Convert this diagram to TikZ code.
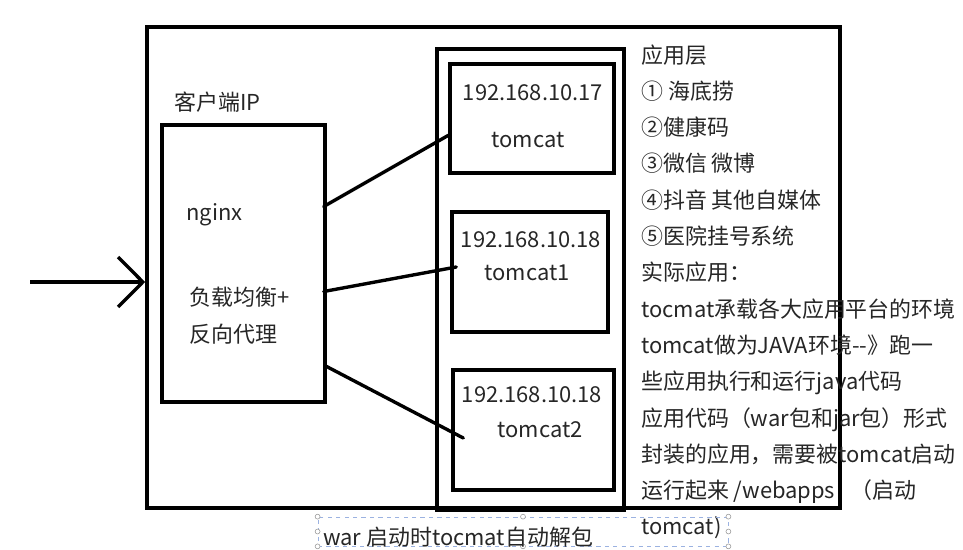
\documentclass[tikz,border=0pt]{standalone}
\usepackage{fontspec}
\setmainfont{Noto Sans CJK SC}
\usepackage{tikz}
\usetikzlibrary{arrows.meta, positioning, calc}

\begin{document}
\begin{tikzpicture}[
    x=0.025cm, y=-0.025cm,
    every node/.style={font=\fontsize{15.6}{18}\selectfont, text=black!85},
    frame/.style={draw, line width=2.4pt, inner sep=0pt},
    link/.style={line width=2.4pt, line cap=round},
    lbl/.style={inner sep=0pt, anchor=base west},
    handle/.style={circle, draw=black!40, fill=white, inner sep=0pt, minimum size=3.5pt},
]
    \useasboundingbox (0,0) rectangle (963,549);

    % boxes
    \node[frame, minimum width=17.325cm, minimum height=12.025cm] (outer) at (493.5,267.5) {};
    \node[frame, minimum width=4.075cm, minimum height=6.925cm] (lb) at (243.5,263.5) {};
    \node[frame, minimum width=4.675cm, minimum height=11.525cm] (col) at (530.5,279.5) {};
    \node[frame, minimum width=4.1cm, minimum height=2.725cm] (t1) at (532,118.5) {};
    \node[frame, minimum width=3.9cm, minimum height=3.0cm] (t2) at (530,272) {};
    \node[frame, minimum width=4.025cm, minimum height=3.0cm] (t3) at (533.5,430) {};

    % nginx side
    \node[lbl] (ip) at (174,110) {客户端IP};
    \node[lbl] (ngx) at (186,220) {nginx};
    \node[lbl] (lbtxt) at (189,305) {负载均衡+};
    \node[lbl] (proxy) at (189,342) {反向代理};

    % tomcat servers
    \node[inner sep=0pt] (ip1) at (533,93) {192.168.10.17};
    \node[inner sep=0pt] (tc1) at (528,140) {tomcat};
    \node[inner sep=0pt] (ip2) at (531,240) {192.168.10.18};
    \node[inner sep=0pt] (tc2) at (527,273) {tomcat1};
    \node[inner sep=0pt] (ip3) at (532,395) {192.168.10.18};
    \node[inner sep=0pt] (tc3) at (540,430) {tomcat2};

    \coordinate (src) at (30,282);
    \draw[line width=2.4pt, -{Straight Barb[length=0.62cm, width=1.25cm, line width=2.4pt]}]
        (src) -- (src -| outer.west);

    \draw[link] ($(lb.east)+(-3,-57)$) -- ($(t1.south west)!0.35!(t1.north west)$);
    \draw[link] ($(lb.east)+(-3,28)$) -- ($(t2.west)+(6,-5)$);
    \draw[link] ($(lb.east)+(-2,102)$) -- ($(t3.west)+(12,8)$);

    % notes on the right
    \foreach \txt [count=\i] in {应用层, ① 海底捞, ②健康码, ③微信 微博, ④抖音 其他自媒体,
        ⑤医院挂号系统, 实际应用：, tocmat承载各大应用平台的环境,
        tomcat做为JAVA环境-{}-》跑一, 些应用执行和运行java代码,
        应用代码（war包和jar包）形式, 封装的应用，需要被tomcat启动,
        运行起来 /webapps\hspace{0.7em}（启动, tomcat)} {
        \node[lbl] (note\i) at (641,{63+36.3*(\i-1)}) {\txt};
    }

    % text box being edited
    \node[draw=cyan!45!blue!40, dashed, line width=0.5pt, minimum width=10.25cm,
          minimum height=0.725cm, inner sep=0pt] (sel) at (523,531.5) {};
    \foreach \a in {north west, north, north east, east, south east, south, south west, west} {
        \node[handle] at (sel.\a) {};
    }
    \node[lbl] (war) at (323,545) {war 启动时tocmat自动解包};
\end{tikzpicture}
\end{document}
